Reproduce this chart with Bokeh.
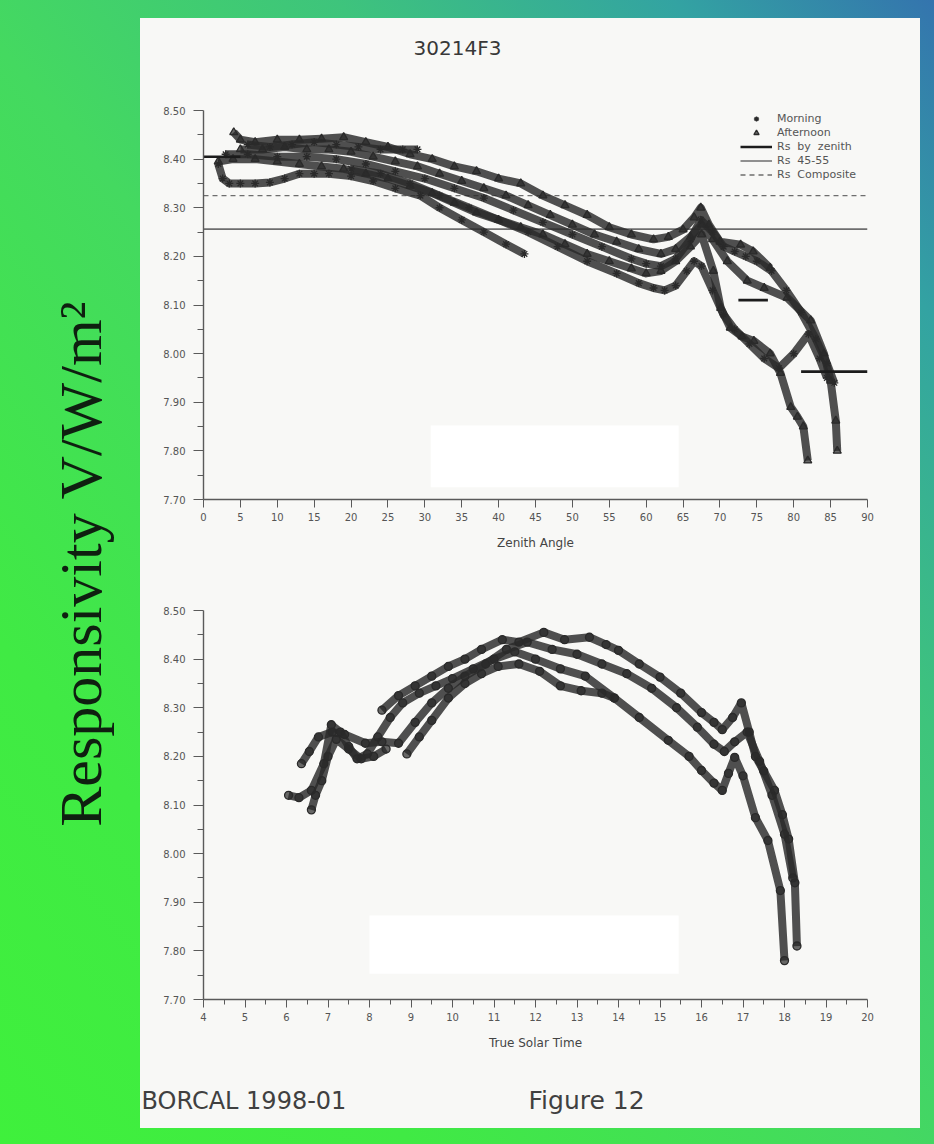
from math import pi
from bokeh.plotting import figure
from bokeh.models import (Range1d, FixedTicker, NumeralTickFormatter, Legend, LegendItem,
                          Label, Spacer, Row, Column)
from bokeh.embed import file_html
from bokeh.resources import INLINE
from bokeh.core.properties import value

# ---------------- data ----------------
# Upper panel: responsivity versus zenith angle
zen_am1 = [2, 2.6, 3.5, 5, 7, 9, 11, 13, 15, 17, 20, 23, 26, 29.4, 32, 35, 38, 41, 43.5]
rs_am1 = [8.39, 8.36, 8.35, 8.35, 8.35, 8.352, 8.36, 8.37, 8.37, 8.37, 8.365, 8.355, 8.34, 8.325,
          8.30, 8.275, 8.25, 8.225, 8.205]
zen_am2 = [3, 6, 10, 14, 18, 22, 26, 30, 34, 38, 42, 46, 50, 54, 58, 60, 62, 64, 66, 67.4, 69,
           70.5, 72, 73.5, 75, 77, 79, 81, 83, 84.5, 85.5]
rs_am2 = [8.41, 8.41, 8.405, 8.405, 8.40, 8.39, 8.375, 8.36, 8.34, 8.32, 8.295, 8.27, 8.245, 8.22,
          8.195, 8.185, 8.18, 8.195, 8.235, 8.275, 8.25, 8.22, 8.21, 8.20, 8.19, 8.17, 8.13, 8.085,
          8.03, 7.98, 7.94]
zen_am3 = [20, 24, 28, 32, 36, 40, 44, 48, 52, 56, 59, 61, 62.5, 64, 65.5, 66.5, 67.5, 69, 70.5,
           72, 74, 76, 78, 80, 82, 83.5, 84.5]
rs_am3 = [8.38, 8.37, 8.35, 8.325, 8.30, 8.275, 8.25, 8.22, 8.19, 8.165, 8.145, 8.135, 8.13, 8.14,
          8.17, 8.19, 8.18, 8.13, 8.08, 8.05, 8.02, 7.99, 7.97, 8.0, 8.04, 7.99, 7.95]
zen_am4 = [6, 9, 12, 15, 18, 21, 24, 27, 29]
rs_am4 = [8.43, 8.425, 8.43, 8.435, 8.43, 8.425, 8.42, 8.42, 8.42]

zen_pm1 = [4.1, 5, 7, 10, 13, 16, 19, 22, 25, 28, 31, 34, 37, 40, 43, 46, 49, 52, 55, 58, 61, 63,
           65, 66.5, 67.4, 68.5, 70, 72.8, 74.5, 76.8]
rs_pm1 = [8.455, 8.44, 8.435, 8.44, 8.44, 8.442, 8.445, 8.435, 8.425, 8.41, 8.40, 8.385, 8.375,
          8.36, 8.35, 8.325, 8.305, 8.285, 8.26, 8.245, 8.235, 8.24, 8.255, 8.28, 8.30, 8.265, 8.23,
          8.224, 8.21, 8.176]
zen_pm2 = [5, 8, 11, 14, 17, 20, 23, 26, 29, 32, 35, 38, 41, 44, 47, 50, 53, 56, 59, 62, 64, 66,
           67.5, 69, 71, 73.7, 76, 79.1, 82.3, 84.1, 85, 85.7, 85.9]
rs_pm2 = [8.42, 8.42, 8.425, 8.42, 8.42, 8.415, 8.405, 8.395, 8.385, 8.37, 8.355, 8.34, 8.325,
          8.305, 8.285, 8.265, 8.245, 8.23, 8.215, 8.205, 8.215, 8.24, 8.265, 8.235, 8.19, 8.15,
          8.135, 8.115, 8.068, 8.0, 7.944, 7.862, 7.80]
zen_pm3 = [2, 4, 7, 10, 13, 16, 19, 22, 25, 28, 31, 34, 37, 40, 43, 46, 49, 52, 55, 58, 60, 62,
           64, 66, 67.5, 69.1, 70.1, 71.4, 73, 74.6, 76.8, 78.2, 79.6, 80.5, 81.3, 81.9]
rs_pm3 = [8.395, 8.40, 8.40, 8.395, 8.39, 8.385, 8.38, 8.37, 8.36, 8.345, 8.33, 8.31, 8.29, 8.275,
          8.26, 8.245, 8.225, 8.205, 8.19, 8.175, 8.165, 8.17, 8.19, 8.22, 8.245, 8.17, 8.094, 8.053,
          8.035, 8.026, 8.0, 7.96, 7.89, 7.87, 7.85, 7.78]

# reference responsivities
rs_bin_start = [0, 72.5, 81]
rs_bin_end = [5, 76.5, 90]
rs_bin_value = [8.405, 8.11, 7.963]
rs_45_55 = 8.256
rs_composite = 8.325

# Lower panel: responsivity versus true solar time
tst_1 = [8.3, 8.7, 9.1, 9.5, 9.9, 10.3, 10.7, 11.2, 11.6, 12.2, 12.7, 13.3, 13.7, 14.0, 14.5, 15.0,
         15.5, 16.0, 16.3, 16.5, 16.75, 16.96, 17.15, 17.3, 17.5, 17.76, 17.95, 18.1, 18.25, 18.3]
rs_t1 = [8.295, 8.325, 8.345, 8.365, 8.385, 8.40, 8.42, 8.44, 8.435, 8.455, 8.44, 8.445, 8.43,
         8.418, 8.39, 8.363, 8.33, 8.29, 8.27, 8.255, 8.28, 8.31, 8.25, 8.20, 8.17, 8.13, 8.08, 8.03,
         7.94, 7.81]
tst_2 = [6.05, 6.3, 6.6, 6.9, 7.08, 7.3, 7.5, 7.7, 7.95, 8.2, 8.5, 8.8, 9.2, 9.6, 10.0, 10.5, 11.0,
         11.5, 12.0, 12.6, 13.2, 13.9, 14.5, 15.2, 15.7, 16.0, 16.3, 16.5, 16.65, 16.8, 17.0, 17.3,
         17.6, 17.9, 18.0]
rs_t2 = [8.12, 8.115, 8.13, 8.185, 8.265, 8.25, 8.22, 8.195, 8.205, 8.24, 8.28, 8.31, 8.33, 8.345,
         8.36, 8.38, 8.40, 8.415, 8.40, 8.38, 8.365, 8.32, 8.28, 8.233, 8.20, 8.171, 8.145, 8.13,
         8.165, 8.198, 8.16, 8.074, 8.027, 7.924, 7.78]
tst_3 = [6.36, 6.55, 6.77, 7.1, 7.4, 7.9, 8.3, 8.7, 9.1, 9.5, 9.9, 10.3, 10.8, 11.3, 11.8, 12.4,
         13.0, 13.6, 14.2, 14.8, 15.4, 15.9, 16.3, 16.55, 16.8, 17.1, 17.4, 17.7, 18.0, 18.2]
rs_t3 = [8.185, 8.21, 8.24, 8.25, 8.245, 8.227, 8.23, 8.227, 8.27, 8.31, 8.34, 8.365, 8.39, 8.42,
         8.435, 8.42, 8.41, 8.39, 8.37, 8.34, 8.30, 8.26, 8.225, 8.21, 8.23, 8.25, 8.19, 8.12, 8.04,
         7.95]
tst_4 = [8.9, 9.2, 9.5, 9.9, 10.3, 10.7, 11.1, 11.6, 12.1, 12.6, 13.1, 13.6, 13.9]
rs_t4 = [8.205, 8.24, 8.274, 8.32, 8.35, 8.37, 8.385, 8.39, 8.375, 8.345, 8.335, 8.33, 8.32]
tst_5 = [6.6, 6.7, 6.85, 7.0, 7.2, 7.5, 7.8, 8.1, 8.4]
rs_t5 = [8.09, 8.12, 8.15, 8.20, 8.235, 8.215, 8.195, 8.2, 8.215]

# blanked-out areas of the scan
mask_zenith = [30.8, 64.4]
mask_zenith_rs = [7.725, 7.852]
mask_time = [8.0, 15.45]
mask_time_rs = [7.753, 7.873]

# axes
zenith_ticks = list(range(0, 91, 5))
time_ticks = list(range(4, 21))
rs_ticks = [7.70, 7.80, 7.90, 8.00, 8.10, 8.20, 8.30, 8.40, 8.50]

# ---------------- styling ----------------
INK = "#2a2a2a"
PAPER = "#f8f8f6"
AXIS = "#5a5a5a"
FONT = "DejaVu Sans"


def style_axes(p, xticks, xminor):
    p.grid.visible = False
    p.xaxis.ticker = FixedTicker(ticks=xticks, minor_ticks=xminor)
    p.yaxis.ticker = FixedTicker(
        ticks=rs_ticks,
        minor_ticks=[round((a + b) / 2, 3) for a, b in zip(rs_ticks[:-1], rs_ticks[1:])])
    p.yaxis.formatter = NumeralTickFormatter(format="0.00")
    for ax in (p.xaxis[0], p.yaxis[0]):
        ax.axis_line_color = AXIS
        ax.axis_line_width = 1.4
        ax.major_tick_line_color = AXIS
        ax.minor_tick_line_color = AXIS
        ax.major_tick_in = 0
        ax.minor_tick_in = 0
        ax.major_label_text_font = FONT
        ax.major_label_text_font_size = "10px"
        ax.major_label_text_color = "#555555"
        ax.axis_label_text_font = FONT
        ax.axis_label_text_font_size = "12px"
        ax.axis_label_text_font_style = "normal"
        ax.axis_label_text_color = "#444444"
    p.yaxis.major_tick_out = 10
    p.yaxis.minor_tick_out = 6
    p.yaxis.major_label_standoff = 8
    p.xaxis.major_tick_out = 8
    p.xaxis.minor_tick_out = 5
    p.xaxis.major_label_standoff = 5
    p.xaxis.axis_label_standoff = 12


def draw_trace(p, xs, ys, marker):
    p.line(xs, ys, line_width=8, line_color=INK, line_alpha=0.82, line_join="round")
    return p.scatter(xs, ys, marker=marker, size=8, line_color=INK, fill_color=INK,
                     fill_alpha=0.7, line_width=1.3)


def paper_figure(**kw):
    return figure(output_backend="svg", toolbar_location=None,
                  background_fill_color=PAPER, border_fill_color=PAPER,
                  outline_line_color=None, styles={"background-color": PAPER}, **kw)


def text_strip(height):
    f = paper_figure(width=780, height=height, x_range=Range1d(0, 780),
                     y_range=Range1d(0, height), min_border=0, frame_align=False,
                     x_axis_type=None, y_axis_type=None)
    f.grid.visible = False
    return f


# ---------------- sheet header ----------------
head = text_strip(62)
head.text(x=[317], y=[33], text=["30214F3"], text_font=value(FONT), text_font_size="20px",
          text_color="#383838", text_align="center", text_baseline="middle")

# ---------------- upper panel ----------------
top = paper_figure(width=780, height=480, x_range=Range1d(0, 90), y_range=Range1d(7.70, 8.50),
                   min_border_left=63, min_border_right=53, min_border_top=30,
                   min_border_bottom=61)
style_axes(top, zenith_ticks, [])
top.xaxis.axis_label = "Zenith Angle"

x_ends = [zenith_ticks[0], zenith_ticks[-1]]
r_4555 = top.line(x_ends, [rs_45_55, rs_45_55], line_color="#6e6e6e", line_width=1.6)
r_comp = top.line(x_ends, [rs_composite, rs_composite], line_color="#6e6e6e", line_width=1.4,
                  line_dash="5 4")

m_renderers = [draw_trace(top, x, y, "asterisk") for x, y in
               ((zen_am1, rs_am1), (zen_am2, rs_am2), (zen_am3, rs_am3), (zen_am4, rs_am4))]
a_renderers = [draw_trace(top, x, y, "triangle") for x, y in
               ((zen_pm1, rs_pm1), (zen_pm2, rs_pm2), (zen_pm3, rs_pm3))]

r_zen = top.segment(x0=rs_bin_start, y0=rs_bin_value, x1=rs_bin_end, y1=rs_bin_value,
                    line_color="#1c1c1c", line_width=2.6)

top.quad(left=[mask_zenith[0]], right=[mask_zenith[1]], bottom=[mask_zenith_rs[0]],
         top=[mask_zenith_rs[1]], fill_color="white", line_color=None)

legend = Legend(items=[
    LegendItem(label="Morning", renderers=[m_renderers[0]]),
    LegendItem(label="Afternoon", renderers=[a_renderers[0]]),
    LegendItem(label="Rs  by  zenith", renderers=[r_zen]),
    LegendItem(label="Rs  45-55", renderers=[r_4555]),
    LegendItem(label="Rs  Composite", renderers=[r_comp]),
], location=(537, 318))
legend.label_text_font = FONT
legend.label_text_font_size = "11px"
legend.label_text_color = "#555555"
legend.background_fill_alpha = 0
legend.border_line_color = None
legend.glyph_width = 32
legend.glyph_height = 13
legend.label_height = 13
legend.label_standoff = 5
legend.spacing = 1
legend.padding = 0
legend.margin = 0
top.add_layout(legend)

# ---------------- lower panel ----------------
bot = paper_figure(width=780, height=500, x_range=Range1d(4, 20), y_range=Range1d(7.70, 8.50),
                   min_border_left=63, min_border_right=53, min_border_top=50,
                   min_border_bottom=61)
style_axes(bot, time_ticks, [t + 0.5 for t in time_ticks[:-1]])
bot.xaxis.axis_label = "True Solar Time"
for x, y in ((tst_1, rs_t1), (tst_2, rs_t2), (tst_3, rs_t3), (tst_4, rs_t4), (tst_5, rs_t5)):
    draw_trace(bot, x, y, "circle")
bot.quad(left=[mask_time[0]], right=[mask_time[1]], bottom=[mask_time_rs[0]],
         top=[mask_time_rs[1]], fill_color="white", line_color=None)

# ---------------- sheet footer ----------------
foot = text_strip(68)
foot.text(x=[1], y=[28], text=["BORCAL 1998-01"],
          text_font=value(FONT), text_font_size="24px", text_color="#404040",
          text_align="left", text_baseline="middle")
foot.text(x=[388], y=[28], text=["Figure 12"],
          text_font=value(FONT), text_font_size="25px", text_color="#404040",
          text_align="left", text_baseline="middle")

# ---------------- left strip with the big axis title ----------------
side = figure(width=140, height=1144, x_range=Range1d(0, 140), y_range=Range1d(0, 1144),
              output_backend="svg", toolbar_location=None, min_border=0,
              x_axis_type=None, y_axis_type=None,
              background_fill_alpha=0, border_fill_alpha=0, outline_line_color=None)
side.grid.visible = False
side.add_layout(Label(x=80, y=1144 - 563, text="Responsivity V/W/m²", angle=pi / 2,
                      text_align="center", text_baseline="middle",
                      text_font="Liberation Serif", text_font_size="60px",
                      text_color="#0f1f10"))

paper = Column(children=[Spacer(width=780, height=18), head, top, bot, foot,
                         Spacer(width=780, height=16)], spacing=0)
page = Row(children=[side, paper, Spacer(width=14, height=1144)], spacing=0,
           styles={"background": "linear-gradient(to bottom left, #3474ae 0%, #33a3a2 14%, "
                                 "#3ec47c 32%, #44d960 52%, #40ea44 78%, #3ff03c 100%)"})

open("out.html", "w").write(file_html(page, INLINE))
